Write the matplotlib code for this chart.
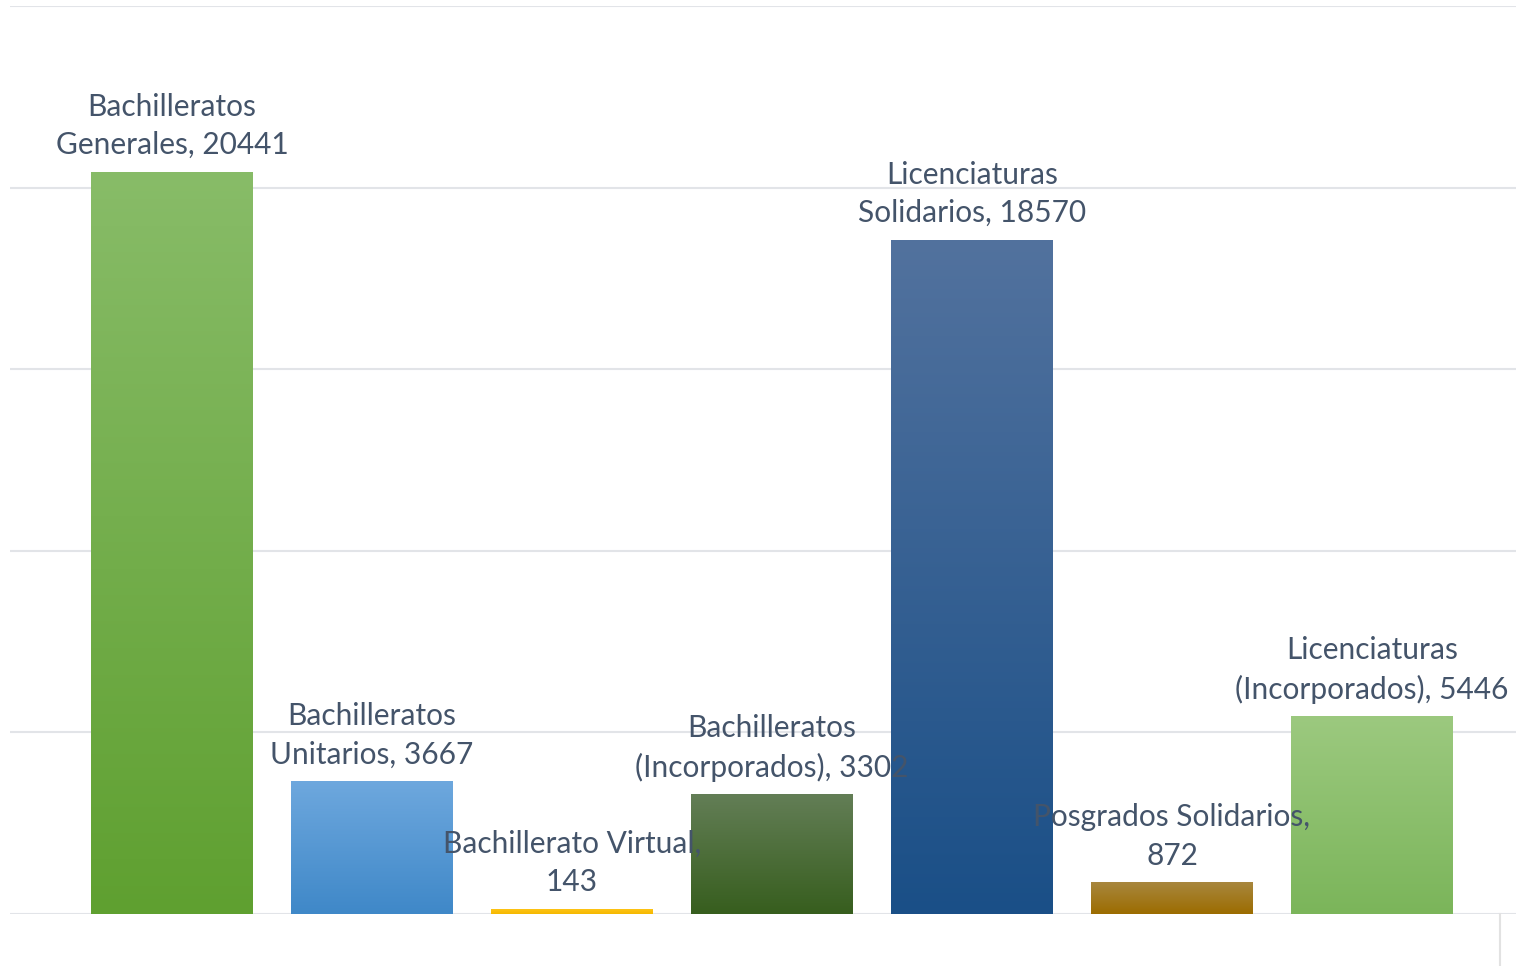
import matplotlib.pyplot as plt
import numpy as np
from matplotlib.colors import LinearSegmentedColormap

categories = ['Bachilleratos Generales', 'Bachilleratos Unitarios', 'Bachillerato Virtual',
              'Bachilleratos (Incorporados)', 'Licenciaturas Solidarios',
              'Posgrados Solidarios', 'Licenciaturas (Incorporados)']
values = [20441, 3667, 143, 3302, 18570, 872, 5446]
labels = ['Bachilleratos\nGenerales, 20441', 'Bachilleratos\nUnitarios, 3667',
          'Bachillerato Virtual,\n143', 'Bachilleratos\n(Incorporados), 3302',
          'Licenciaturas\nSolidarios, 18570', 'Posgrados Solidarios,\n872',
          'Licenciaturas\n(Incorporados), 5446']
# gradient colours, top -> bottom
top_colors = ['#88BC68', '#6EA8DE', '#FFC61A', '#637E56', '#52729E', '#A8873E', '#9CC97F']
bottom_colors = ['#5FA030', '#3F88C8', '#F5B800', '#375E1E', '#1A4F87', '#9C6C00', '#7BB55A']

plt.rcParams['font.family'] = ['Lato', 'DejaVu Sans']

fig = plt.figure(figsize=(15.16, 9.66), dpi=100)
ax = fig.add_axes([10 / 1516, 52 / 966, 1506 / 1516, 908 / 966])

x = np.arange(len(values))
bars = ax.bar(x, values, width=0.81, color='none', zorder=3)

ax.set_xlim(-0.81, -0.81 + 1506 / 200)
ax.set_ylim(0, 25000)

grad = np.linspace(1, 0, 256).reshape(-1, 1)
for i, b in enumerate(bars):
    cmap = LinearSegmentedColormap.from_list('g%d' % i, [bottom_colors[i], top_colors[i]])
    x0, w, h = b.get_x(), b.get_width(), b.get_height()
    im = ax.imshow(grad, cmap=cmap, aspect='auto', extent=(x0, x0 + w, 0, h),
                   vmin=0, vmax=1, zorder=2)
    im.set_clip_path(b)

for i, (v, lab) in enumerate(zip(values, labels)):
    ax.annotate(lab, (x[i], v), xytext=(0, 9), textcoords='offset points',
                ha='center', va='bottom', fontsize=21.5, color='#44546A',
                linespacing=1.45, zorder=4)

ax.set_yticks(np.arange(0, 25001, 5000))
ax.yaxis.grid(True, color='#E2E4E8', linewidth=1.5, zorder=0)
ax.tick_params(left=False, bottom=False, labelleft=False, labelbottom=False)
for s in ax.spines.values():
    s.set_visible(False)
ax.set_axisbelow(True)

# small vertical frame line at bottom right
fig.add_artist(plt.Line2D([1500 / 1516, 1500 / 1516], [0, 52 / 966],
                          color='#E2E2E2', linewidth=1.5))

fig.savefig('out.png', dpi=100)
